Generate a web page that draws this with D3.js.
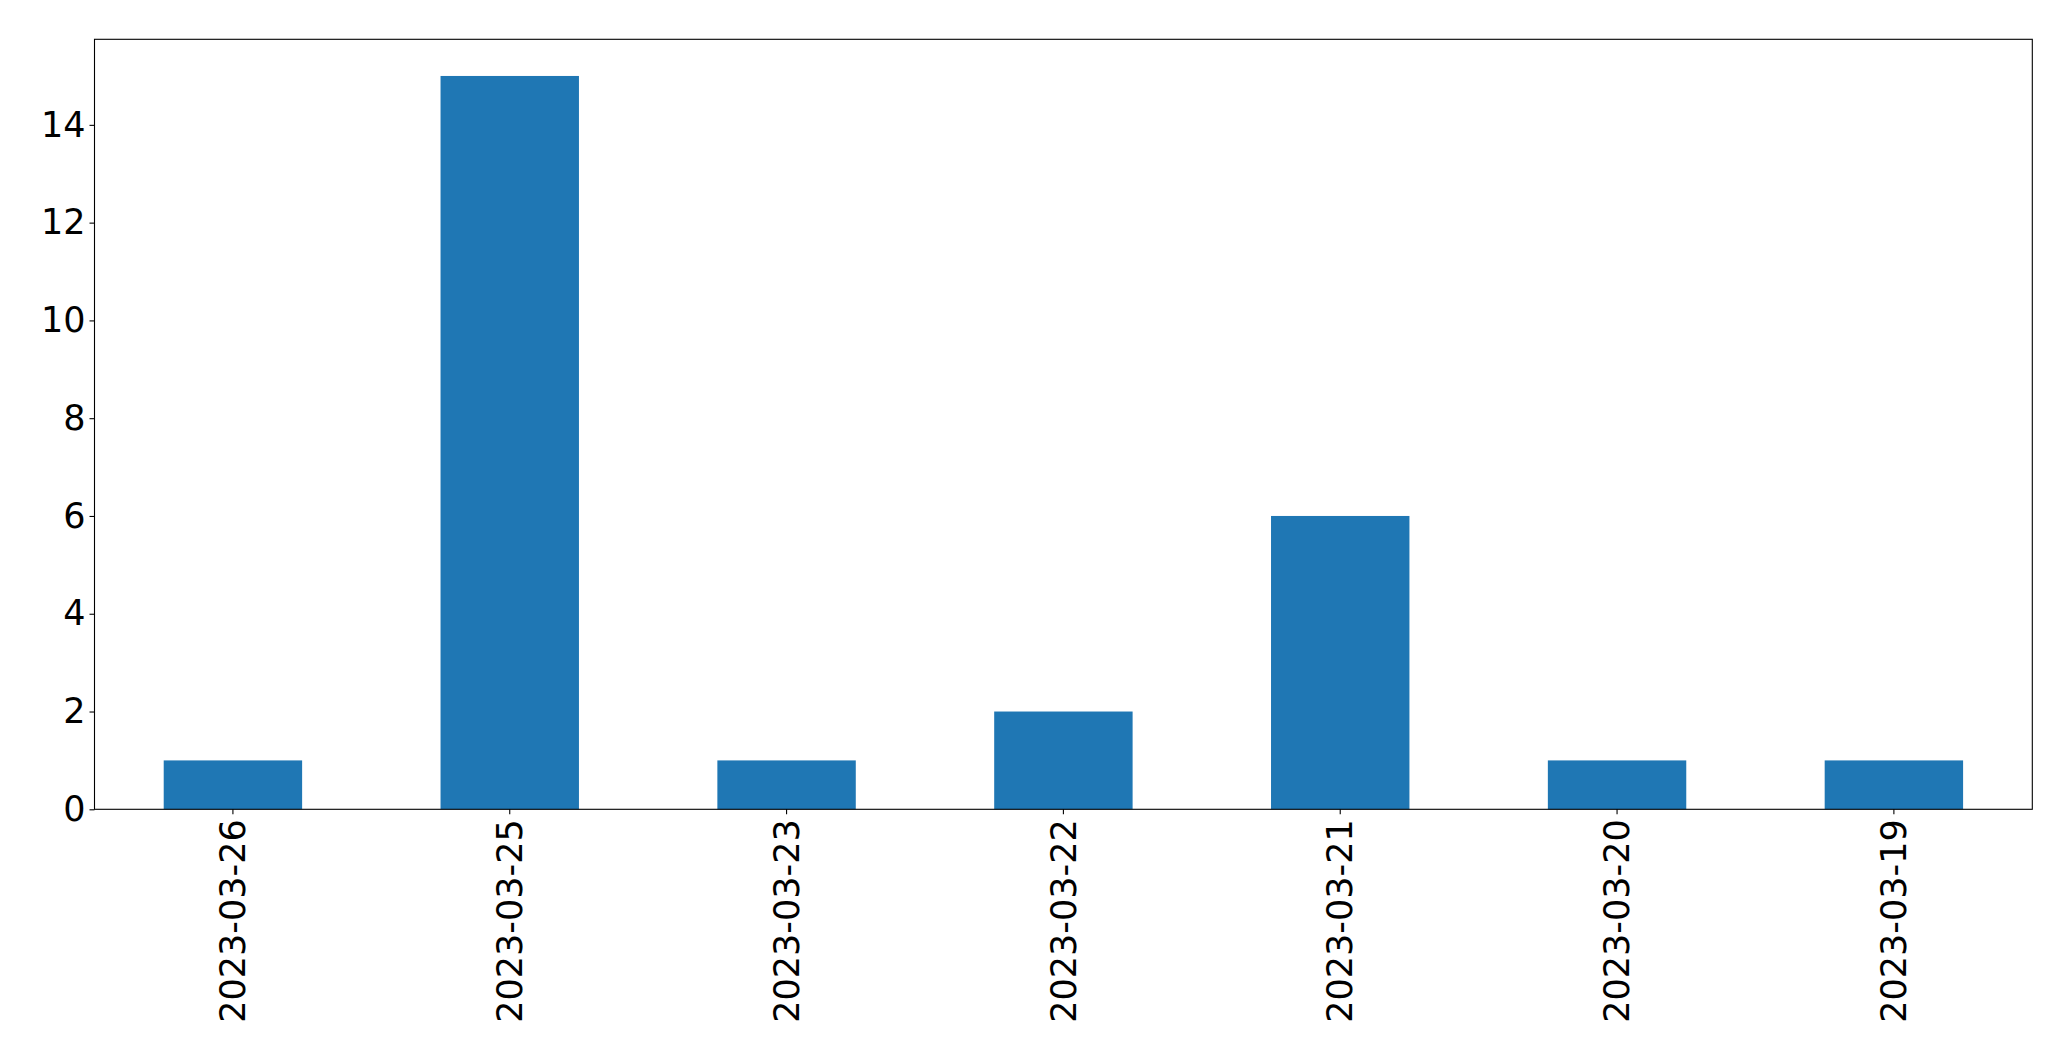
<!DOCTYPE html>
<html>
<head>
<meta charset="utf-8">
<script src="https://cdn.jsdelivr.net/npm/d3@7"></script>
<style>
  html, body { margin: 0; padding: 0; background: #fff; }
  svg { display: block; }
  text { font-family: "DejaVu Sans", sans-serif; fill: #000; }
</style>
</head>
<body>
<svg id="chart" width="2071" height="1061"></svg>
<script>
const categories = ["2023-03-26", "2023-03-25", "2023-03-23", "2023-03-22", "2023-03-21", "2023-03-20", "2023-03-19"];
const values = [1, 15, 1, 2, 6, 1, 1];
const yTicks = [0, 2, 4, 6, 8, 10, 12, 14];

const W = 2071, H = 1061;
const m = { left: 94.5, right: 2071 - 2032.3, top: 39.3, bottom: 1061 - 809.3 };
const iw = W - m.left - m.right, ih = H - m.top - m.bottom;

const svg = d3.select("#chart");
const g = svg.append("g").attr("transform", `translate(${m.left},${m.top})`);

const x = d3.scaleBand().domain(categories).range([0, iw]).paddingInner(0.5).paddingOuter(0.25);
const y = d3.scaleLinear().domain([0, d3.max(values) * 1.05]).range([ih, 0]);

g.selectAll("rect.bar").data(values).enter().append("rect")
  .attr("class", "bar")
  .attr("x", (d, i) => x(categories[i]))
  .attr("y", d => y(d))
  .attr("width", x.bandwidth())
  .attr("height", d => ih - y(d))
  .attr("fill", "#1f77b4");

const fs = 35;

const yAxis = g.append("g").call(d3.axisLeft(y).tickValues(yTicks).tickSize(5).tickPadding(4).tickFormat(d3.format("d")));
yAxis.select(".domain").remove();
yAxis.selectAll("line").attr("stroke", "#000").attr("stroke-width", 1.1);
yAxis.selectAll("text").style("font-size", fs + "px").attr("font-family", "DejaVu Sans");

const xAxis = g.append("g").attr("transform", `translate(0,${ih})`)
  .call(d3.axisBottom(x).tickSize(5).tickPadding(7));
xAxis.select(".domain").remove();
xAxis.selectAll("line").attr("stroke", "#000").attr("stroke-width", 1.1);
xAxis.selectAll("text")
  .style("font-size", fs + "px")
  .attr("font-family", "DejaVu Sans")
  .attr("transform", "rotate(-90)")
  .attr("text-anchor", "end")
  .attr("dy", "0.35em")
  .attr("x", -10)
  .attr("y", 0);

g.append("rect").attr("x", 0).attr("y", 0).attr("width", iw).attr("height", ih)
  .attr("fill", "none").attr("stroke", "#000").attr("stroke-width", 1.1);
</script>
</body>
</html>
